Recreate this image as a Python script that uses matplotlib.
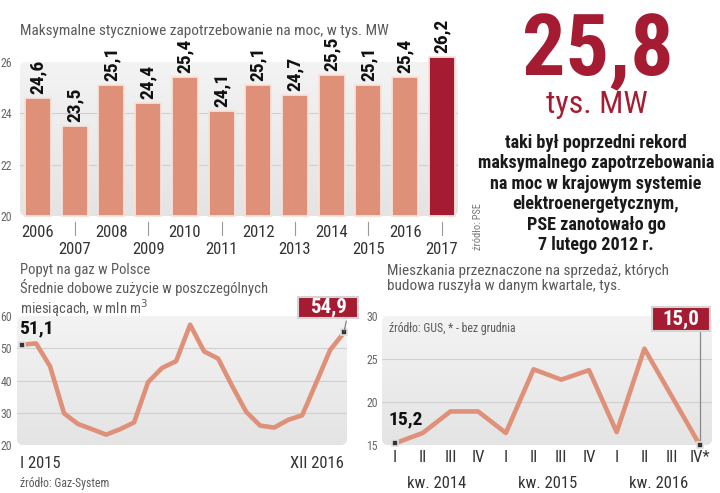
import matplotlib
matplotlib.use('Agg')
import matplotlib.pyplot as plt
from matplotlib import font_manager
from matplotlib.patches import FancyBboxPatch, Rectangle
from matplotlib.colors import LinearSegmentedColormap
import numpy as np

# --- data -------------------------------------------------------------
years = [2006, 2007, 2008, 2009, 2010, 2011, 2012, 2013, 2014, 2015, 2016, 2017]
peak_demand = [24.6, 23.5, 25.1, 24.4, 25.4, 24.1, 25.1, 24.7, 25.5, 25.1, 25.4, 26.2]
peak_ticks = [20, 22, 24, 26]

gas_months = list(range(24))  # I 2015 .. XII 2016
gas_demand = [51.1, 51.5, 44.4, 29.8, 26.5, 24.9, 23.2, 24.9, 27.0, 39.5, 43.9, 46.0,
              57.3, 49.0, 46.8, 38.3, 30.3, 26.0, 25.4, 27.8, 29.2, 39.3, 49.5, 54.9]
gas_ticks = [20, 30, 40, 50, 60]

quarters = ['I', 'II', 'III', 'IV', 'I', 'II', 'III', 'IV', 'I', 'II', 'III', 'IV*']
quarter_years = ['kw. 2014', 'kw. 2015', 'kw. 2016']
housing_starts = [15.2, 16.4, 18.9, 18.9, 16.4, 23.8, 22.6, 23.7, 16.5, 26.2, 20.6, 15.0]
housing_ticks = [15, 20, 25, 30]

SALMON = '#df9079'
DARKRED = '#a51c32'
GRAY = '#5a5a5a'

names = {f.name for f in font_manager.fontManager.ttflist}
NARROW = next((n for n in ['Liberation Sans Narrow', 'Roboto Condensed',
                           'Open Sans Condensed', 'DejaVu Sans'] if n in names))
plt.rcParams['font.family'] = [NARROW, 'DejaVu Sans']

W, H = 720, 493


def box(x0, y0, x1, y1):
    return [x0 / W, 1 - y1 / H, (x1 - x0) / W, (y1 - y0) / H]


def fmt(v):
    return ('%.1f' % v).replace('.', ',')


panel_cmap = LinearSegmentedColormap.from_list('panel', ['#f3f3f3', '#e4e4e4'])


def panel(ax, r=6):
    bb = ax.get_position()
    aw, ah = bb.width * W, bb.height * H
    p = FancyBboxPatch((0, 0), 1, 1, boxstyle='round,pad=0,rounding_size=%f' % (r / aw),
                       mutation_aspect=aw / ah, transform=ax.transAxes,
                       fc='none', ec='none')
    ax.add_patch(p)
    grad = np.linspace(0, 1, 64).reshape(-1, 1)
    im = ax.imshow(grad, extent=[0, 1, 0, 1], transform=ax.transAxes, cmap=panel_cmap,
                   aspect='auto', zorder=0)
    im.set_clip_path(p)
    for s in ax.spines.values():
        s.set_visible(False)


def value_box(ax, x, y, text, w_px, h_px):
    sx = ax.bbox.width / np.ptp(ax.get_xlim())
    sy = ax.bbox.height / np.ptp(ax.get_ylim())
    w, h = w_px / sx, h_px / sy
    ax.add_patch(Rectangle((x - w / 2, y - h / 2), w, h, fc=DARKRED, ec='#d4d4d4',
                           lw=1.5, clip_on=False, zorder=5))
    ax.text(x, y, text, ha='center', va='center', color='white', fontsize=15,
            fontweight='bold', zorder=6)


fig = plt.figure(figsize=(7.2, 4.93), dpi=100)

# --- top left: bars ----------------------------------------------------
ax1 = fig.add_axes(box(20, 62, 458, 216))
ax1.set_xlim(-0.49, 11.44)
ax1.set_ylim(20, 26)
panel(ax1)
x = np.arange(len(years))
colors = [SALMON] * (len(years) - 1) + [DARKRED]
ax1.bar(x, np.array(peak_demand) - 20, bottom=20, width=0.71, color=colors,
        edgecolor='#f6e2da', linewidth=1.3, zorder=3, clip_on=False)
for g in [22, 24]:
    ax1.axhline(g, color='#cfcfcf', lw=0.8, zorder=1)
for i, v in enumerate(peak_demand):
    ax1.annotate(fmt(v), (i, v), xytext=(0, 3), textcoords='offset points',
                 rotation=90, ha='center', va='bottom', fontsize=14,
                 fontweight='bold', color='#111', annotation_clip=False)
ax1.set_yticks(peak_ticks)
ax1.set_yticklabels([str(t) for t in peak_ticks])
ax1.tick_params(axis='y', length=0, pad=6, labelsize=8.5, labelcolor='#666')
ax1.set_xticks([])
tr = ax1.get_xaxis_transform()
for i, yr in enumerate(years):
    if i % 2 == 0:
        ax1.text(i, -0.105, str(yr), transform=tr, ha='center', va='center',
                 fontsize=12, color='#333')
    else:
        ax1.plot([i, i], [-0.04, -0.125], transform=tr, color='#999', lw=0.8,
                 clip_on=False)
        ax1.text(i, -0.215, str(yr), transform=tr, ha='center', va='center',
                 fontsize=12, color='#333')
fig.text(20 / W, 1 - 31 / H, 'Maksymalne styczniowe zapotrzebowanie na moc, w tys. MW',
         ha='left', va='center', fontsize=11, color=GRAY)
fig.text(478 / W, 1 - 250 / H, 'źródło: PSE', rotation=90, ha='center', va='bottom',
         fontsize=7.5, color='#777')

# --- top right: record -------------------------------------------------
fig.text(598 / W, 1 - 75 / H, '25,8', ha='center', va='baseline', fontsize=62,
         fontweight='bold', color=DARKRED)
fig.text(597 / W, 1 - 113 / H, 'tys. MW', ha='center', va='baseline', fontsize=23,
         color=DARKRED)
record_lines = ['taki był poprzedni rekord', 'maksymalnego zapotrzebowania',
                'na moc w krajowym systemie', 'elektroenergetycznym,',
                'PSE zanotowało go', '7 lutego 2012 r.']
for k, line in enumerate(record_lines):
    fig.text(596 / W, 1 - (143 + 20.4 * k) / H, line, ha='center', va='center',
             fontsize=13.1, fontweight='bold', color='#1a1a1a')

# --- bottom left: gas ----------------------------------------------------
ax2 = fig.add_axes(box(17, 316, 347, 445))
ax2.set_xlim(-0.36, 23.2)
ax2.set_ylim(20, 60)
panel(ax2)
for g in [30, 40, 50]:
    ax2.axhline(g, color='#cfcfcf', lw=0.8, zorder=1)
ax2.plot(gas_months, gas_demand, color=SALMON, lw=3.3, solid_joinstyle='round',
         solid_capstyle='round', zorder=3, clip_on=False)
ax2.plot([gas_months[0], gas_months[-1]], [gas_demand[0], gas_demand[-1]], 's', ms=4,
         mfc='#333', mec='#e0e0e0', mew=1.2, zorder=4, clip_on=False)
ax2.set_yticks(gas_ticks)
ax2.set_yticklabels([str(t) for t in gas_ticks])
ax2.tick_params(axis='y', length=0, pad=3.5, labelsize=8.5, labelcolor='#666')
ax2.set_xticks([])
ax2.text(gas_months[0] - 0.2, 56, fmt(gas_demand[0]), ha='left', va='center',
         fontsize=14, fontweight='bold', color='#111')
value_box(ax2, 21.86, 62.6, fmt(gas_demand[-1]), 60, 21)
ax2.plot([23.15, 23.0], [58.4, 55.4], color='#777', lw=0.8, clip_on=False, zorder=4)
tr2 = ax2.get_xaxis_transform()
ax2.text(gas_months[0] - 0.15, -0.14, 'I 2015', transform=tr2, ha='left', va='center',
         fontsize=12, color='#333')
ax2.text(gas_months[-1], -0.14, 'XII 2016', transform=tr2, ha='right', va='center',
         fontsize=12, color='#333')
gas_title = ['Popyt na gaz w Polsce', 'Średnie dobowe zużycie w poszczególnych',
             'miesiącach, w mln m$^3$']
fig.text(20 / W, 1 - 263 / H, '\n'.join(gas_title), ha='left', va='top',
         fontsize=10.5, color=GRAY, linespacing=1.12)
fig.text(20 / W, 1 - 484 / H, 'źródło: Gaz-System', ha='left', va='center',
         fontsize=8.5, color=GRAY)

# --- bottom right: housing ---------------------------------------------------
ax3 = fig.add_axes(box(382, 316, 712, 445))
ax3.set_xlim(-0.47, 11.44)
ax3.set_ylim(15, 30)
panel(ax3)
for g in [20, 25]:
    ax3.axhline(g, color='#cfcfcf', lw=0.8, zorder=1)
q = np.arange(len(quarters))
ax3.plot([q[-1], q[-1]], [housing_starts[-1], 28.5], color='#888', lw=0.9, zorder=2)
ax3.plot(q, housing_starts, color=SALMON, lw=3.3, solid_joinstyle='round',
         solid_capstyle='round', zorder=3, clip_on=False)
ax3.plot([q[0], q[-1]], [housing_starts[0], housing_starts[-1]], 's', ms=4,
         mfc='#333', mec='#e0e0e0', mew=1.2, zorder=4, clip_on=False)
ax3.set_yticks(housing_ticks)
ax3.set_yticklabels([str(t) for t in housing_ticks])
ax3.tick_params(axis='y', length=0, pad=3, labelsize=8.5, labelcolor='#666')
ax3.set_xticks([])
tr3 = ax3.get_xaxis_transform()
for i, lab in enumerate(quarters):
    ax3.text(i, -0.097, lab, transform=tr3, ha='center', va='center', fontsize=12,
             color='#333')
for k, lab in enumerate(quarter_years):
    ax3.text(4 * k + 1.5, -0.295, lab, transform=tr3, ha='center', va='center',
             fontsize=12, color='#333')
ax3.text(q[0] - 0.25, 18.0, fmt(housing_starts[0]), ha='left', va='center',
         fontsize=14, fontweight='bold', color='#111')
value_box(ax3, 10.32, 29.6, fmt(housing_starts[-1]), 58, 24)
ax3.text(0.02, 0.9, 'źródło: GUS, * - bez grudnia', transform=ax3.transAxes,
         ha='left', va='center', fontsize=8.5, color=GRAY)
fig.text(387 / W, 1 - 264 / H, 'Mieszkania przeznaczone na sprzedaż, których\n'
         'budowa ruszyła w danym kwartale, tys.', ha='left', va='top',
         fontsize=11, color=GRAY, linespacing=1.12)

fig.savefig('out.png', dpi=100)
